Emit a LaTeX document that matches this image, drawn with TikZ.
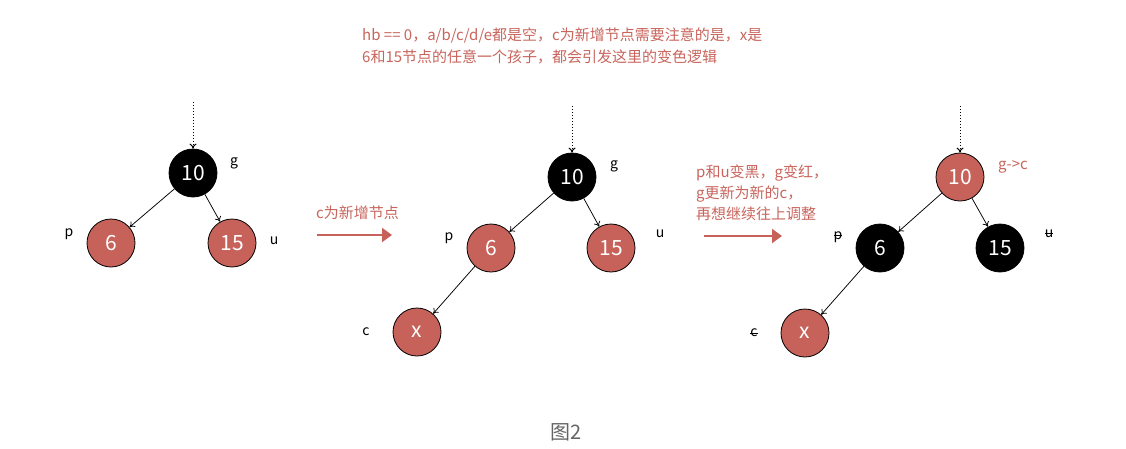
\documentclass[tikz,border=0pt]{standalone}
\usepackage{fontspec}
\setmainfont{Noto Sans CJK SC}
\usetikzlibrary{arrows.meta}
\definecolor{nred}{RGB}{198,98,90}
\definecolor{tred}{RGB}{200,100,92}
\definecolor{capgray}{RGB}{100,100,100}
\newcommand\strk[1]{\setbox0\hbox{#1}\rlap{\copy0}\rule[0.26em]{\wd0}{0.6pt}}
\tikzset{
  rb/.style={circle,draw=black,line width=0.8pt,minimum size=48pt,inner sep=0pt,text=white,font=\fontsize{21}{21}\selectfont},
  rnode/.style={rb,fill=nred},
  bnode/.style={rb,fill=black},
  lbl/.style={font=\fontsize{14}{14}\selectfont,text=black,inner sep=0pt},
  edge/.style={-{To[length=5pt,width=7pt]},line width=0.75pt},
  entry/.style={-{To[length=5pt,width=7pt]},line width=1pt,dotted},
  bigarrow/.style={nred,line width=2.2pt,-{Triangle[length=10pt,width=14pt]}},
  note/.style={text=tred,font=\fontsize{15}{22}\selectfont,inner sep=0pt,align=left}
}
\begin{document}
\begin{tikzpicture}[x=1pt,y=-1pt]
\useasboundingbox (0,0) rectangle (1126,448);
% top note
\node[note,anchor=north west] (top) at (362,28) {hb == 0，a/b/c/d/e都是空，c为新增节点需要注意的是，x是\\6和15节点的任意一个孩子，都会引发这里的变色逻辑};
% tree 1
\coordinate (t1) at (193,102);
\node[bnode] (g1) at (193,173) {10};
\node[rnode] (p1) at (111,243) {6};
\node[rnode] (u1) at (232,243) {15};
\draw[entry] (t1) -- (g1);
\draw[edge] (g1) -- (p1);
\draw[edge] (g1) -- (u1);
\node[lbl] (lg1) at (234,163) {g};
\node[lbl] (lp1) at (69,234) {p};
\node[lbl] (lu1) at (274,241) {u};
% arrow 1
\coordinate (a1s) at (317,235);
\coordinate (a1e) at (392,235);
\draw[bigarrow] (a1s) -- (a1e);
\node[note,anchor=west] (n1) at (316,213) {c为新增节点};
% tree 2
\coordinate (t2) at (572,106);
\node[bnode] (g2) at (572,177) {10};
\node[rnode] (p2) at (491,248) {6};
\node[rnode] (u2) at (611,248) {15};
\node[rnode] (x2) at (417,332) {x};
\draw[entry] (t2) -- (g2);
\draw[edge] (g2) -- (p2);
\draw[edge] (g2) -- (u2);
\draw[edge] (p2) -- (x2);
\node[lbl] (lg2) at (614,166) {g};
\node[lbl] (lp2) at (449,238) {p};
\node[lbl] (lu2) at (660,234) {u};
\node[lbl] (lc2) at (366,332) {c};
% arrow 2
\coordinate (a2s) at (704,236);
\coordinate (a2e) at (782,236);
\draw[bigarrow] (a2s) -- (a2e);
\node[note,anchor=north west,font=\fontsize{15}{21}\selectfont] (n2) at (696,165) {p和u变黑，g变红，\\g更新为新的c，\\再想继续往上调整};
% tree 3
\coordinate (t3) at (960,106);
\node[rnode] (g3) at (960,177) {10};
\node[bnode] (p3) at (880,248) {6};
\node[bnode] (u3) at (1000,248) {15};
\node[rnode] (x3) at (805,333) {x};
\draw[entry] (t3) -- (g3);
\draw[edge] (g3) -- (p3);
\draw[edge] (g3) -- (u3);
\draw[edge] (p3) -- (x3);
\node[note,anchor=west] (lg3) at (998,167) {g->c};
\node[lbl] (lp3) at (838,237) {\strk{p}};
\node[lbl] (lu3) at (1049,234) {\strk{u}};
\node[lbl] (lc3) at (754,333) {\strk{c}};
% caption
\node[text=capgray,font=\fontsize{20}{20}\selectfont] (cap) at (566,432) {图2};
\end{tikzpicture}
\end{document}
